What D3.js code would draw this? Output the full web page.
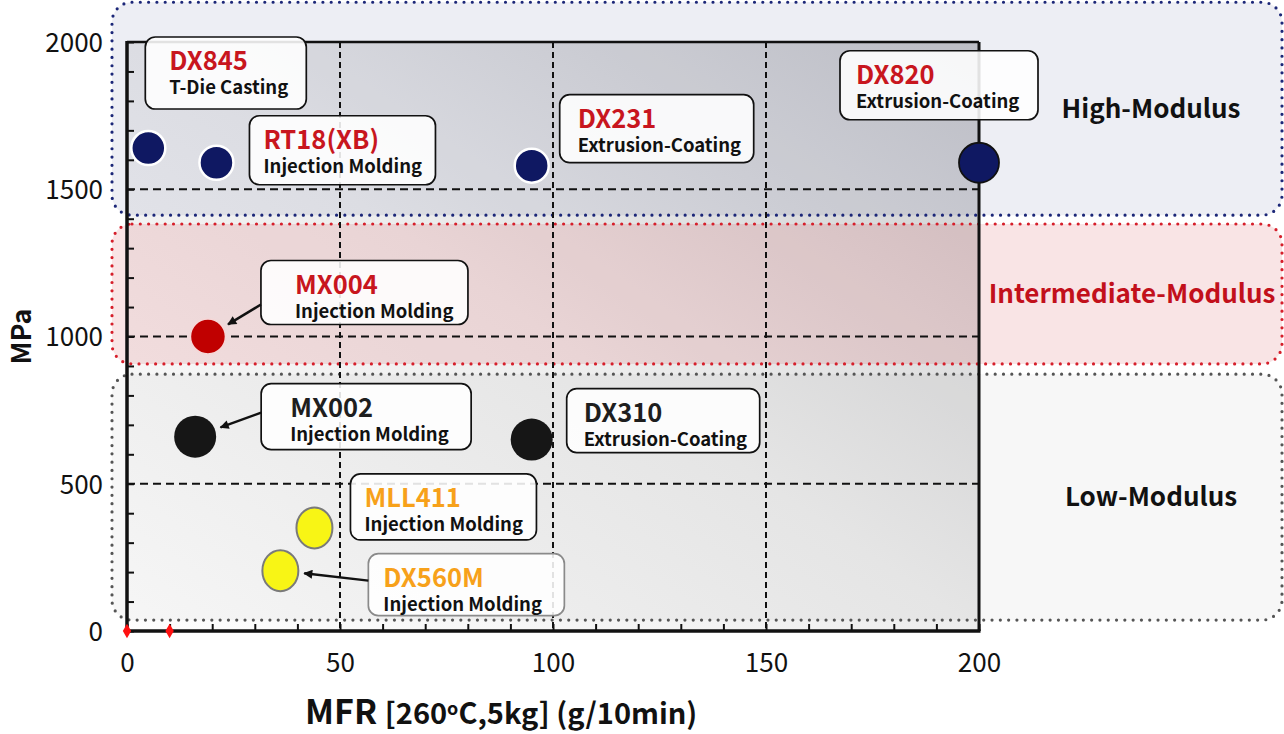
<!DOCTYPE html>
<html>
<head>
<meta charset="utf-8">
<script src="https://cdn.jsdelivr.net/npm/d3@7"></script>
<style>
  body { margin: 0; background: #fff; }
  svg { display: block; font-family: "Noto Sans CJK JP", "Noto Sans", sans-serif; }
</style>
</head>
<body>
<svg id="chart"></svg>
<script>
// ---- data ----
var grades   = ["DX845", "RT18(XB)", "DX231", "DX820", "MX004", "MX002", "DX310", "MLL411", "DX560M"];
var mfr      = [5, 21, 95, 200, 19, 16, 95, 44, 36];
var modulus  = [1640, 1590, 1580, 1590, 1000, 660, 650, 350, 205];
var process  = ["T-Die Casting", "Injection Molding", "Extrusion-Coating", "Extrusion-Coating",
                "Injection Molding", "Injection Molding", "Extrusion-Coating", "Injection Molding", "Injection Molding"];
var klass    = ["high", "high", "high", "high", "mid", "low", "low", "soft", "soft"];

var refMfr   = [0, 10];
var refMod   = [0, 0];

var xTicks   = [0, 50, 100, 150, 200];
var yTicks   = [0, 500, 1000, 1500, 2000];
var gridX    = [50, 100, 150];
var gridY    = [500, 1000, 1500];

var bandNames  = ["High-Modulus", "Intermediate-Modulus", "Low-Modulus"];
var bandRanges = [[1412, 2135], [907, 1382], [37, 872]];

// ---- layout / styles ----
var W = 1284, H = 734;
var svg = d3.select("#chart").attr("width", W).attr("height", H);
var x = d3.scaleLinear().domain([0, 200]).range([127, 979]);
var y = d3.scaleLinear().domain([0, 2000]).range([631, 42]);

var bandStyle = {
  "High-Modulus":         { fill: "#1a2370", op: 0.08, stroke: "#1c2778", text: "#111",    tx: 1151 },
  "Intermediate-Modulus": { fill: "#d0202a", op: 0.12, stroke: "#d61f2b", text: "#c2101b", tx: 1132 },
  "Low-Modulus":          { fill: "#000000", op: 0.03, stroke: "#555555", text: "#111",    tx: 1151 }
};

var markStyle = {
  high: { fill: "#0f1862", stroke: "#ffffff", sw: 2.5, rx: 17, ry: 17 },
  mid:  { fill: "#c00000", stroke: "#f6d6d6", sw: 1.5, rx: 17.5, ry: 17.5 },
  low:  { fill: "#161616", stroke: "none",    sw: 0,   rx: 21, ry: 21 },
  soft: { fill: "#f8f515", stroke: "#7a7a7a", sw: 2,   rx: 18, ry: 20.5 }
};
var titleColor = { high: "#c8161e", mid: "#c8161e", low: "#1e1e1e", soft: "#f7a11a" };

// callout boxes, offsets in px from the point
var callout = {
  "DX845":    { dx: -3,   dy: -111, w: 161, h: 72, pad: 24 },
  "RT18(XB)": { dx: 33,   dy: -47,  w: 186, h: 69, pad: 14 },
  "DX231":    { dx: 28,   dy: -71,  w: 194, h: 68, pad: 18 },
  "DX820":    { dx: -139, dy: -112, w: 198, h: 69, pad: 16 },
  "MX004":    { dx: 53,   dy: -76,  w: 207, h: 64, pad: 34, arrow: 44 },
  "MX002":    { dx: 66,   dy: -53,  w: 210, h: 66, pad: 29, arrow: 29 },
  "DX310":    { dx: 35,   dy: -51,  w: 193, h: 64, pad: 17 },
  "MLL411":   { dx: 36,   dy: -54,  w: 186, h: 66, pad: 14 },
  "DX560M":   { dx: 88,   dy: -17,  w: 196, h: 62, pad: 15, arrow: 27, stroke: "#8a8a8a" }
};

var points = grades.map(function (d, i) {
  return { name: d, mfr: mfr[i], mod: modulus[i], proc: process[i], k: klass[i] };
});

// ---- defs ----
var defs = svg.append("defs");
var grad = defs.append("linearGradient").attr("id", "plotbg")
  .attr("x1", 0).attr("y1", 1).attr("x2", 1).attr("y2", 0);
grad.append("stop").attr("offset", "0%").attr("stop-color", "#fefefe");
grad.append("stop").attr("offset", "50%").attr("stop-color", "#ededed");
grad.append("stop").attr("offset", "100%").attr("stop-color", "#cbcbcd");

defs.append("marker").attr("id", "arrow")
  .attr("viewBox", "0 0 10 10").attr("refX", 9).attr("refY", 5)
  .attr("markerUnits", "userSpaceOnUse").attr("markerWidth", 11).attr("markerHeight", 9)
  .attr("orient", "auto")
  .append("path").attr("d", "M0,0 L10,5 L0,10 z").attr("fill", "#111");

// ---- plot background ----
svg.append("rect")
  .attr("x", x(0)).attr("y", y(2000))
  .attr("width", x(200) - x(0)).attr("height", y(0) - y(2000))
  .attr("fill", "url(#plotbg)");

// ---- modulus bands ----
var bandG = svg.append("g");
bandNames.forEach(function (b, i) {
  var s = bandStyle[b];
  var top = y(bandRanges[i][1]), bot = y(bandRanges[i][0]);
  bandG.append("rect")
    .attr("x", 112).attr("y", top).attr("width", 1282 - 112).attr("height", bot - top)
    .attr("rx", 20)
    .attr("fill", s.fill).attr("fill-opacity", s.op)
    .attr("stroke", s.stroke).attr("stroke-width", 3.2)
    .attr("stroke-dasharray", "0 8.3").attr("stroke-linecap", "round");
  bandG.append("text")
    .attr("x", s.tx).attr("y", (top + bot) / 2)
    .attr("dy", "0.35em").attr("text-anchor", "middle")
    .attr("font-size", 26).attr("font-weight", 700)
    .attr("fill", s.text).text(b);
});

// ---- dashed grid ----
var grid = svg.append("g").attr("stroke", "#111").attr("stroke-width", 2)
  .attr("stroke-dasharray", "8 5");
grid.selectAll(".gy").data(gridY).enter().append("line")
  .attr("x1", x(0)).attr("x2", x(200))
  .attr("y1", function (d) { return y(d); }).attr("y2", function (d) { return y(d); });
grid.selectAll(".gx").data(gridX).enter().append("line")
  .attr("y1", y(2000)).attr("y2", y(0))
  .attr("x1", function (d) { return x(d); }).attr("x2", function (d) { return x(d); })
  .attr("stroke-dasharray", "6 4");

// ---- axes ----
var xMinor = svg.append("g").attr("transform", "translate(0," + y(0) + ")")
  .call(d3.axisBottom(x).tickValues(d3.range(0, 201, 10)).tickSize(-7).tickFormat(""));
var yMinor = svg.append("g").attr("transform", "translate(" + x(0) + ",0)")
  .call(d3.axisLeft(y).tickValues(d3.range(0, 2001, 100)).tickSize(-7).tickFormat(""));
[xMinor, yMinor].forEach(function (a) {
  a.select(".domain").remove();
  a.selectAll("line").attr("stroke", "#111").attr("stroke-width", 2);
});

var xLab = svg.append("g").attr("transform", "translate(0," + y(0) + ")")
  .call(d3.axisBottom(x).tickValues(xTicks).tickSize(0).tickPadding(23).tickFormat(d3.format("d")));
var yLab = svg.append("g").attr("transform", "translate(" + x(0) + ",0)")
  .call(d3.axisLeft(y).tickValues(yTicks).tickSize(0).tickPadding(24).tickFormat(d3.format("d")));
[xLab, yLab].forEach(function (a) {
  a.select(".domain").remove();
  a.selectAll("text").attr("font-family", "'Noto Sans CJK JP', sans-serif")
    .attr("font-size", 26).attr("fill", "#111");
});
yLab.selectAll("text").attr("dy", "0.36em");

// frame
var frame = svg.append("g").attr("stroke", "#111").attr("fill", "none");
frame.append("line").attr("x1", x(0)).attr("x2", x(200)).attr("y1", y(2000)).attr("y2", y(2000)).attr("stroke-width", 2.5);
frame.append("line").attr("x1", x(200)).attr("x2", x(200)).attr("y1", y(2000)).attr("y2", y(0)).attr("stroke-width", 3);
frame.append("line").attr("x1", x(0)).attr("x2", x(0)).attr("y1", y(2000) - 1).attr("y2", y(0) + 1.5).attr("stroke-width", 3.5);
frame.append("line").attr("x1", x(0) - 1.5).attr("x2", x(200) + 1.5).attr("y1", y(0)).attr("y2", y(0)).attr("stroke-width", 3.5);

// axis titles
svg.append("text")
  .attr("transform", "translate(31," + y(1000) + ") rotate(-90)")
  .attr("text-anchor", "middle").attr("font-size", 27).attr("font-weight", 700)
  .attr("fill", "#111").text("MPa");

var xt = svg.append("text").attr("x", 305).attr("y", 724).attr("fill", "#111").attr("font-weight", 700);
xt.append("tspan").attr("font-size", 34).text("MFR ");
xt.append("tspan").attr("font-size", 29).text("[260");
xt.append("tspan").attr("font-size", 18).attr("dy", -9).text("o");
xt.append("tspan").attr("font-size", 29).attr("dy", 9).text("C,5kg] (g/10min)");

// ---- reference markers on the axis ----
svg.selectAll(".ref").data(refMfr).enter().append("path")
  .attr("transform", function (d, i) { return "translate(" + x(d) + "," + y(refMod[i]) + ")"; })
  .attr("d", d3.symbol().type(d3.symbolDiamond).size(60))
  .attr("fill", "#ff1010");

// ---- callout boxes ----
var cg = svg.append("g");
points.forEach(function (p) {
  var L = callout[p.name];
  var bx = x(p.mfr) + L.dx, by = y(p.mod) + L.dy;
  cg.append("rect")
    .attr("x", bx).attr("y", by).attr("width", L.w).attr("height", L.h).attr("rx", 10)
    .attr("fill", "#fff").attr("fill-opacity", 0.88)
    .attr("stroke", L.stroke || "#111").attr("stroke-width", 1.7);
  cg.append("text")
    .attr("x", bx + L.pad).attr("y", by + 33)
    .attr("font-size", 25.5).attr("font-weight", 700)
    .attr("fill", titleColor[p.k]).text(p.name);
  cg.append("text")
    .attr("x", bx + L.pad).attr("y", by + 57)
    .attr("font-size", 18.5).attr("font-weight", 700)
    .attr("fill", "#111").text(p.proc);
});

// ---- points ----
svg.selectAll(".pt").data(points).enter().append("ellipse")
  .attr("cx", function (d) { return x(d.mfr); })
  .attr("cy", function (d) { return y(d.mod); })
  .attr("rx", function (d) { return d.name === "DX820" ? 20 : markStyle[d.k].rx; })
  .attr("ry", function (d) { return d.name === "DX820" ? 20 : markStyle[d.k].ry; })
  .attr("fill", function (d) { return markStyle[d.k].fill; })
  .attr("stroke", function (d) { return d.name === "DX820" ? "#111" : markStyle[d.k].stroke; })
  .attr("stroke-width", function (d) { return d.name === "DX820" ? 1.8 : markStyle[d.k].sw; });

// ---- arrows from callouts to points ----
points.forEach(function (p) {
  var L = callout[p.name];
  if (L.arrow === undefined) return;
  var px = x(p.mfr), py = y(p.mod);
  var sx = px + L.dx, sy = py + L.dy + L.arrow;
  var ang = Math.atan2(sy - py, sx - px);
  var r = markStyle[p.k].rx + 6;
  svg.append("line")
    .attr("x1", sx).attr("y1", sy)
    .attr("x2", px + r * Math.cos(ang)).attr("y2", py + r * Math.sin(ang))
    .attr("stroke", "#111").attr("stroke-width", 2.5)
    .attr("marker-end", "url(#arrow)");
});
</script>
</body>
</html>
